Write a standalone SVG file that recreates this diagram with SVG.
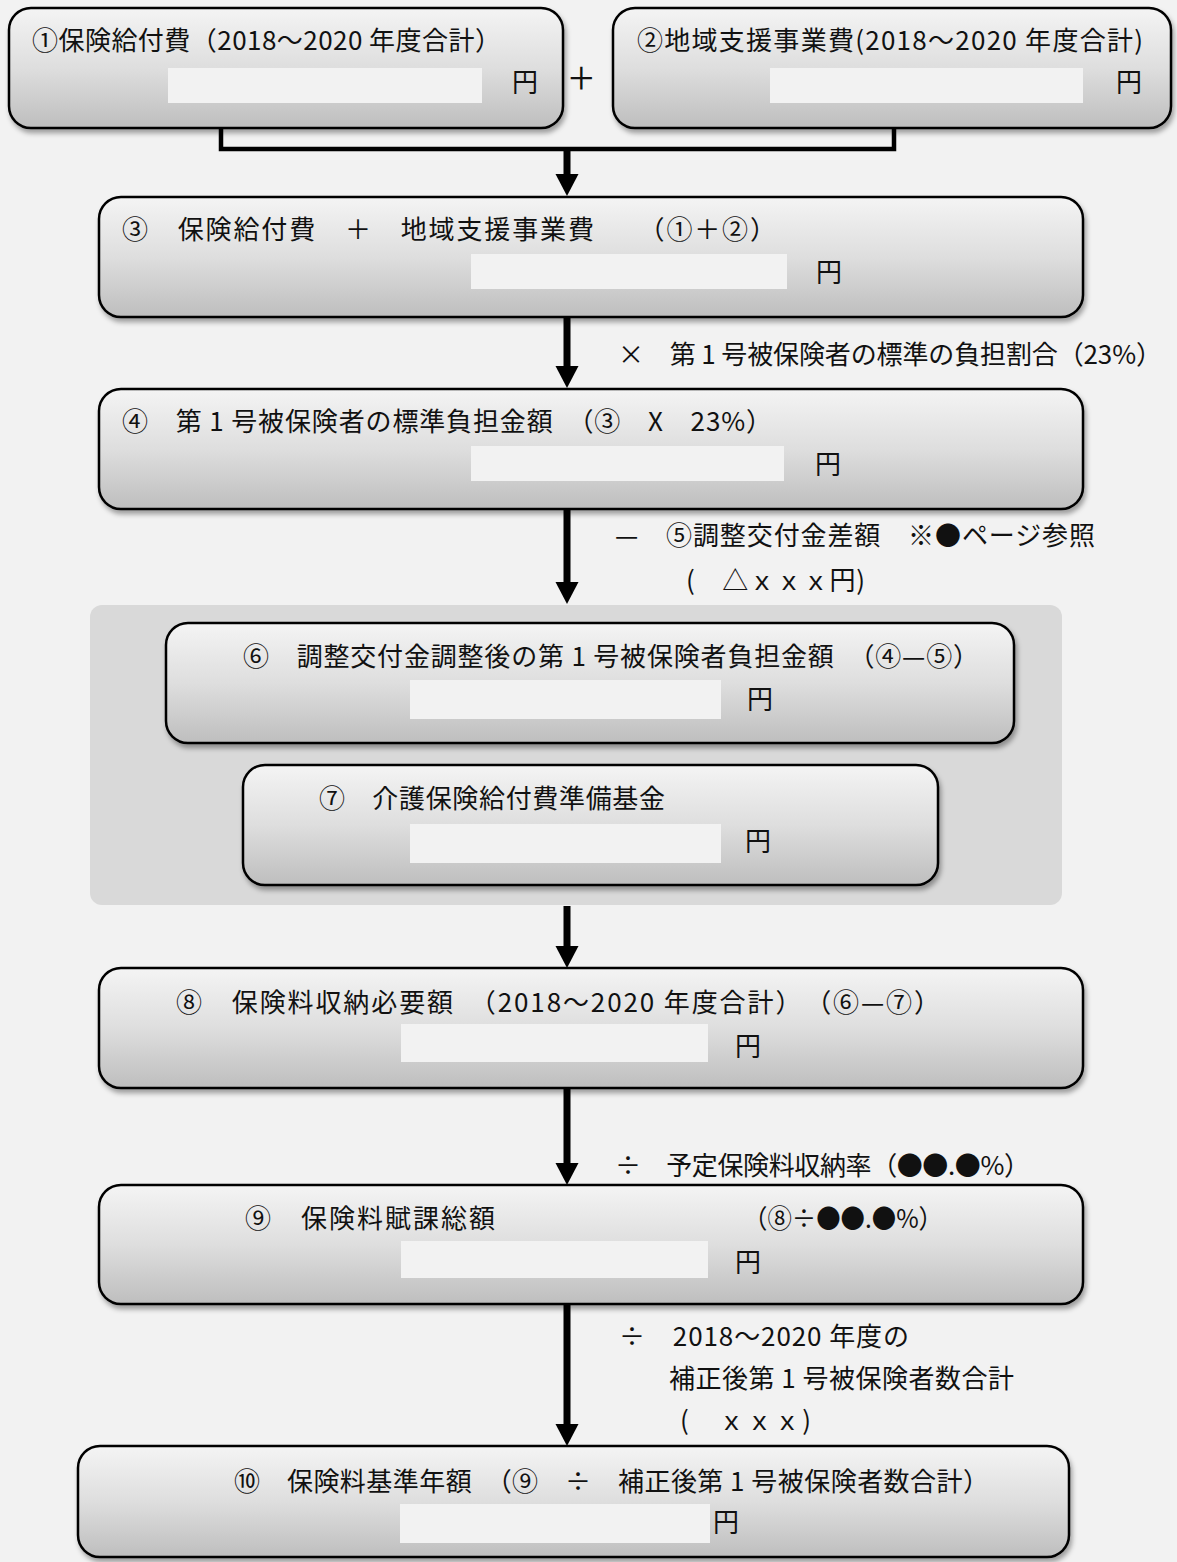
<svg xmlns="http://www.w3.org/2000/svg" xmlns:xlink="http://www.w3.org/1999/xlink" width="1177" height="1562" viewBox="0 0 1177 1562">
<defs>
<linearGradient id="g" x1="0" y1="0" x2="0" y2="1">
<stop offset="0" stop-color="#f4f4f4"/>
<stop offset="0.5" stop-color="#dedede"/>
<stop offset="1" stop-color="#bebebe"/>
</linearGradient>
<filter id="sh" x="-5%" y="-10%" width="110%" height="130%">
<feDropShadow dx="2" dy="4" stdDeviation="2.5" flood-color="#000" flood-opacity="0.35"/>
</filter>
<path id="head" d="M-11.5,-22 L11.5,-22 L0,0 Z" fill="#000"/>
</defs>
<style>
.box{fill:url(#g);stroke:#000;stroke-width:2.5;filter:url(#sh)}
.fld{fill:#f2f2f2}
text{font-family:"Noto Sans CJK JP","Noto Sans",sans-serif;font-size:26px;fill:#111}
.plus{font-size:46px;font-weight:300}
.ln{stroke:#000;stroke-width:7;fill:none}
.br{stroke:#000;stroke-width:4.5;fill:none}
</style>
<rect width="1177" height="1562" fill="#f2f2f2"/>
<rect id="panel" x="90" y="605" width="972" height="300" rx="12" fill="#d9d9d9"/>

<g id="connectors">
<path class="br" d="M221,128 V149 H894 V128"/>
<line class="ln" x1="567" y1="147" x2="567" y2="178"/>
<use xlink:href="#head" x="567" y="196"/>
<line class="ln" x1="567" y1="317" x2="567" y2="370"/>
<use xlink:href="#head" x="567" y="388"/>
<line class="ln" x1="567" y1="509" x2="567" y2="586"/>
<use xlink:href="#head" x="567" y="604"/>
<line class="ln" x1="567" y1="906" x2="567" y2="950"/>
<use xlink:href="#head" x="567" y="968"/>
<line class="ln" x1="567" y1="1088" x2="567" y2="1167"/>
<use xlink:href="#head" x="567" y="1185"/>
<line class="ln" x1="567" y1="1304" x2="567" y2="1428"/>
<use xlink:href="#head" x="567" y="1446"/>
</g>

<g id="labels">
<text class="plus" x="569" y="95">+</text>
<text x="618" y="364" textLength="544" lengthAdjust="spacing">×　第 1 号被保険者の標準の負担割合（23%）</text>
<text x="615" y="545" textLength="480" lengthAdjust="spacing">—　⑤調整交付金差額　※●ページ参照</text>
<text x="686" y="590" textLength="179" lengthAdjust="spacing">(　△ｘｘｘ円)</text>
<text x="615" y="1175" textLength="415" lengthAdjust="spacing">÷　予定保険料収納率（●●.●%）</text>
<text x="619" y="1346" textLength="290" lengthAdjust="spacing">÷　2018～2020 年度の</text>
<text x="669" y="1388" textLength="345" lengthAdjust="spacing">補正後第 1 号被保険者数合計</text>
<text x="680" y="1430" textLength="131" lengthAdjust="spacing">(　ｘｘｘ)</text>
</g>

<g id="n1">
<rect class="box" x="9" y="8" width="554" height="120" rx="22"/>
<text x="32" y="50" textLength="469" lengthAdjust="spacing">①保険給付費（2018～2020 年度合計）</text>
<rect class="fld" x="168" y="68" width="314" height="35"/>
<text x="512" y="92">円</text>
</g>

<g id="n2">
<rect class="box" x="613" y="8" width="558" height="120" rx="22"/>
<text x="637" y="50" textLength="506" lengthAdjust="spacing">②地域支援事業費(2018～2020 年度合計)</text>
<rect class="fld" x="770" y="68" width="313" height="35"/>
<text x="1116" y="92">円</text>
</g>

<g id="n3">
<rect class="box" x="99" y="197" width="984" height="120" rx="22"/>
<text x="122" y="239" textLength="654" lengthAdjust="spacing">③　保険給付費　＋　地域支援事業費　　（①＋②）</text>
<rect class="fld" x="471" y="254" width="316" height="35"/>
<text x="816" y="282">円</text>
</g>

<g id="n4">
<rect class="box" x="99" y="389" width="984" height="120" rx="22"/>
<text x="122" y="431" textLength="650" lengthAdjust="spacing">④　第 1 号被保険者の標準負担金額　（③　X　23%）</text>
<rect class="fld" x="471" y="446" width="313" height="35"/>
<text x="815" y="474">円</text>
</g>

<g id="n6">
<rect class="box" x="166" y="623" width="848" height="120" rx="22"/>
<text x="243" y="666" textLength="736" lengthAdjust="spacing">⑥　調整交付金調整後の第 1 号被保険者負担金額　（④—⑤）</text>
<rect class="fld" x="410" y="680" width="311" height="39"/>
<text x="747" y="709">円</text>
</g>

<g id="n7">
<rect class="box" x="243" y="765" width="695" height="120" rx="22"/>
<text x="319" y="808" textLength="346" lengthAdjust="spacing">⑦　介護保険給付費準備基金</text>
<rect class="fld" x="410" y="824" width="311" height="39"/>
<text x="745" y="851">円</text>
</g>

<g id="n8">
<rect class="box" x="99" y="968" width="984" height="120" rx="22"/>
<text x="176" y="1012" textLength="764" lengthAdjust="spacing">⑧　保険料収納必要額　（2018～2020 年度合計）　（⑥—⑦）</text>
<rect class="fld" x="401" y="1024" width="307" height="38"/>
<text x="735" y="1056">円</text>
</g>

<g id="n9">
<rect class="box" x="99" y="1185" width="984" height="119" rx="22"/>
<text x="245" y="1228" textLength="250" lengthAdjust="spacing">⑨　保険料賦課総額</text>
<text x="743" y="1228" textLength="200" lengthAdjust="spacingAndGlyphs">（⑧÷●●.●%）</text>
<rect class="fld" x="401" y="1241" width="307" height="37"/>
<text x="735" y="1272">円</text>
</g>

<g id="n10">
<rect class="box" x="78" y="1446" width="991" height="111" rx="22"/>
<text x="234" y="1491" textLength="755" lengthAdjust="spacing">⑩　保険料基準年額　（⑨　÷　補正後第 1 号被保険者数合計）</text>
<rect class="fld" x="400" y="1504" width="310" height="39"/>
<text x="713" y="1532">円</text>
</g>
</svg>
